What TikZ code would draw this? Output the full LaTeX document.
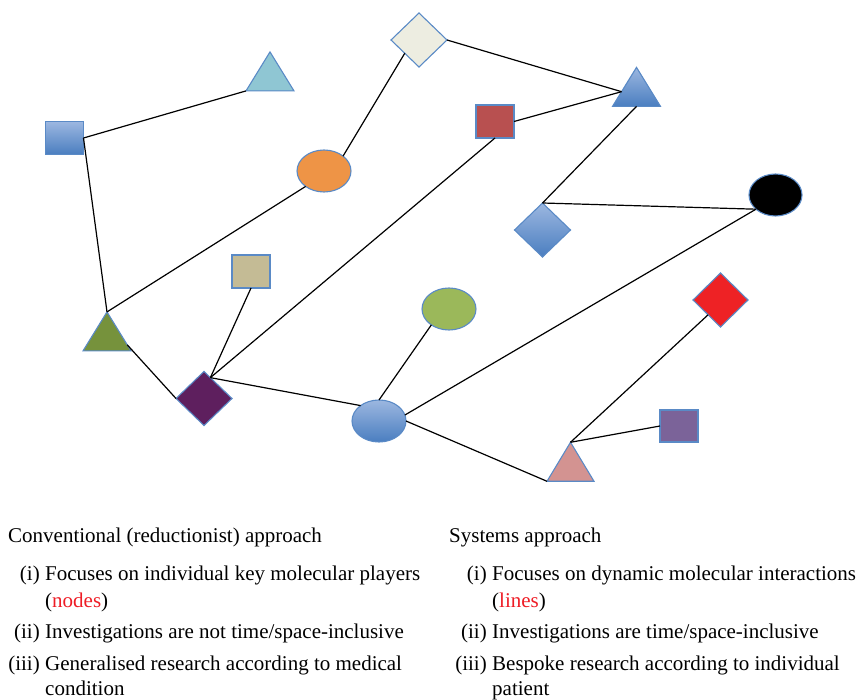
\documentclass[tikz,border=0pt]{standalone}
\usepackage{fontspec}
\setmainfont{Liberation Serif}
\usetikzlibrary{shapes.geometric}
\definecolor{bord}{HTML}{5A8AC6}
\definecolor{gtop}{HTML}{9CB7E0}
\definecolor{gbot}{HTML}{4A7EC0}
\definecolor{aqua}{HTML}{8FC6D3}
\definecolor{beige}{HTML}{EDEDE1}
\definecolor{orng}{HTML}{EE9446}
\definecolor{brick}{HTML}{B85050}
\definecolor{tan}{HTML}{C4BB95}
\definecolor{lgreen}{HTML}{9BB85A}
\definecolor{olive}{HTML}{76923C}
\definecolor{plum}{HTML}{5E1F5E}
\definecolor{bred}{HTML}{EE2225}
\definecolor{lav}{HTML}{7B6399}
\definecolor{pink}{HTML}{D39391}
\definecolor{txtred}{HTML}{EE1C25}
\begin{document}
\begin{tikzpicture}[x=1pt,y=-1pt,
  shp/.style={draw=bord, line width=1.1pt, inner sep=0pt, outer sep=0pt},
  sq/.style={shp, rectangle, minimum width=38pt, minimum height=33pt},
  dia/.style={shp, diamond, minimum width=56pt, minimum height=54pt},
  ell/.style={shp, ellipse, minimum width=54pt, minimum height=42pt},
  tri/.style={shp, isosceles triangle, shape border rotate=90, isosceles triangle stretches, minimum width=48pt, minimum height=39pt},
  grad/.style={top color=gtop, bottom color=gbot},
  link/.style={draw=black, line width=1.2pt},
  txt/.style={anchor=base west, inner sep=0pt, font=\fontsize{21}{25}\selectfont},
  lbl/.style={anchor=base east, inner sep=0pt, font=\fontsize{21}{25}\selectfont}]
\useasboundingbox (0,0) rectangle (864,700);
% nodes
\node[sq, grad] (sqA) at (64.5,138) {};
\node[tri, fill=aqua] (triA) at (270,77.5) {};
\node[dia, fill=beige] (diaA) at (419,40) {};
\node[ell, fill=orng] (ellA) at (324,171) {};
\node[tri, grad] (triB) at (636.5,93) {};
\node[sq, fill=brick] (sqB) at (495,121.5) {};
\node[dia, grad] (diaB) at (542.5,230) {};
\node[ell, fill=black, minimum width=53pt] (ellB) at (775.5,195) {};
\node[sq, fill=tan] (sqC) at (251,271.5) {};
\node[ell, fill=lgreen] (ellC) at (449,309) {};
\node[tri, fill=olive] (triC) at (107,337.5) {};
\node[dia, fill=plum] (diaC) at (204,398.5) {};
\node[ell, grad] (ellD) at (379,421) {};
\node[dia, fill=bred, minimum width=55pt] (diaD) at (720.5,300) {};
\node[sq, fill=lav, minimum height=32pt] (sqD) at (679,426) {};
\node[tri, fill=pink, minimum width=47pt] (triD) at (570.5,468) {};
% connectors
\draw[link] (sqA.east) -- (triA.left corner);
\draw[link] (sqA.east) -- (triC.apex);
\draw[link] (triC.apex) -- (ellA.220);
\draw[link] (ellA.38) -- (diaA.223);
\draw[link] (diaA.east) -- (triB.175);
\draw[link] (sqB.east) -- (triB.175);
\draw[link] (triB.270) -- (diaB.north);
\draw[link] (diaB.north) -- (ellB.216);
\draw[link] (ellB.216) -- (ellD.13);
\draw[link] (sqB.south) -- (diaC.73);
\draw[link] (sqC.south) -- (diaC.73);
\draw[link] (triC.340) -- (diaC.west);
\draw[link] (diaC.73) -- (ellD.140);
\draw[link] (ellC.222) -- (ellD.north);
\draw[link] (ellD.east) -- (triD.left corner);
\draw[link] (triD.apex) -- (diaD.230);
\draw[link] (triD.apex) -- (sqD.west);
% texts
\node[txt] (h1) at (8,542) {Conventional (reductionist) approach};
\node[lbl] (l1) at (40,580) {(i)};
\node[txt] (t1) at (45,580) {Focuses on individual key molecular players};
\node[txt] (t1b) at (45,607) {(\textcolor{txtred}{nodes})};
\node[lbl] (l2) at (40,638) {(ii)};
\node[txt] (t2) at (45,638) {Investigations are not time/space-inclusive};
\node[lbl] (l3) at (40,670) {(iii)};
\node[txt] (t3) at (45,670) {Generalised research according to medical};
\node[txt] (t3b) at (45,695) {condition};
\node[txt] (h2) at (449,542) {Systems approach};
\node[lbl] (r1) at (487,580) {(i)};
\node[txt] (s1) at (492,580) {Focuses on dynamic molecular interactions};
\node[txt] (s1b) at (492,607) {(\textcolor{txtred}{lines})};
\node[lbl] (r2) at (487,638) {(ii)};
\node[txt] (s2) at (492,638) {Investigations are time/space-inclusive};
\node[lbl] (r3) at (487,670) {(iii)};
\node[txt] (s3) at (492,670) {Bespoke research according to individual};
\node[txt] (s3b) at (492,695) {patient};
\end{tikzpicture}
\end{document}
